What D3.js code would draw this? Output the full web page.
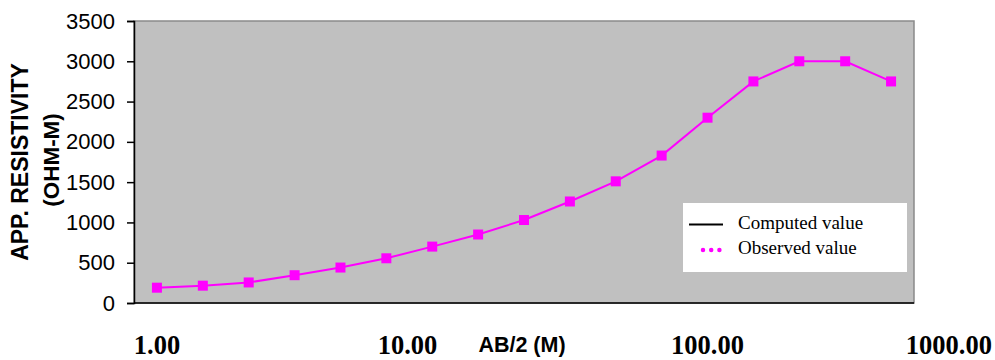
<!DOCTYPE html>
<html>
<head>
<meta charset="utf-8">
<script src="https://cdn.jsdelivr.net/npm/d3@7"></script>
<style>
  html, body { margin: 0; padding: 0; background: #ffffff; }
  svg { display: block; }
</style>
</head>
<body>
<svg id="chart" width="995" height="360"></svg>
<script>
// Electrode half-spacing AB/2 (m) for each sounding station, in order
const abHalf = [1, 1.5, 2, 3, 5, 8, 13, 18, 25, 35, 50, 70, 100, 150, 250, 400, 600];
// Observed apparent resistivity (ohm-m) at each spacing
const observed = [190, 215, 255, 345, 440, 555, 700, 850, 1030, 1260, 1510, 1830, 2300, 2750, 3000, 3000, 2750];
// Decade labels along the spacing axis
const decadeLabels = [1, 10, 100, 1000];
// Resistivity axis ticks
const yTicks = [0, 500, 1000, 1500, 2000, 2500, 3000, 3500];
// Legend entries
const legendItems = ["Computed value", "Observed value"];

const svg = d3.select("#chart");
const plot = { left: 134, right: 914, top: 21, bottom: 303 };

// Stations are plotted as evenly spaced categories
const x = d3.scalePoint()
  .domain(abHalf)
  .range([plot.left, plot.right])
  .padding(0.5);

// Log interpolation across the station positions, used to place decade labels
const xDecade = d3.scaleLog()
  .domain(abHalf)
  .range(abHalf.map(d => x(d)));

const y = d3.scaleLinear()
  .domain([0, 3500])
  .range([plot.bottom, plot.top]);

// Plot area
svg.append("rect")
  .attr("x", plot.left)
  .attr("y", plot.top)
  .attr("width", plot.right - plot.left)
  .attr("height", plot.bottom - plot.top)
  .attr("fill", "#c0c0c0")
  .attr("stroke", "#8a8a8a")
  .attr("stroke-width", 1.5);

// Y axis
const yAxis = svg.append("g")
  .attr("transform", `translate(${plot.left},0)`)
  .call(d3.axisLeft(y).tickValues(yTicks).tickSize(7).tickPadding(12).tickFormat(d3.format("d")));
yAxis.select(".domain").attr("stroke", "#000").attr("stroke-width", 1.5);
yAxis.selectAll(".tick line").attr("stroke", "#000").attr("stroke-width", 1.5);
yAxis.selectAll(".tick text")
  .attr("font-family", "'Liberation Sans', Arial, sans-serif")
  .attr("font-size", 22)
  .attr("fill", "#000");

// Bottom axis line
svg.append("line")
  .attr("x1", plot.left).attr("x2", plot.right)
  .attr("y1", plot.bottom).attr("y2", plot.bottom)
  .attr("stroke", "#000").attr("stroke-width", 1.5);

// Y axis title (two lines)
svg.append("text")
  .attr("transform", `translate(28,162) rotate(-90)`)
  .attr("text-anchor", "middle")
  .attr("font-family", "'Liberation Sans', Arial, sans-serif")
  .attr("font-weight", "bold")
  .attr("font-size", 23)
  .attr("fill", "#000")
  .text("APP. RESISTIVITY");
svg.append("text")
  .attr("transform", `translate(59,160) rotate(-90)`)
  .attr("text-anchor", "middle")
  .attr("font-family", "'Liberation Sans', Arial, sans-serif")
  .attr("font-weight", "bold")
  .attr("font-size", 22.5)
  .attr("fill", "#000")
  .text("(OHM-M)");

// Decade labels
svg.append("g").selectAll("text")
  .data(decadeLabels)
  .join("text")
  .attr("x", d => xDecade(d))
  .attr("y", 354)
  .attr("text-anchor", "middle")
  .attr("font-family", "'Liberation Serif', 'Times New Roman', serif")
  .attr("font-weight", "bold")
  .attr("font-size", 26.5)
  .attr("fill", "#000")
  .text(d => d3.format(".2f")(d));

// X axis title
svg.append("text")
  .attr("x", 522)
  .attr("y", 352)
  .attr("text-anchor", "middle")
  .attr("font-family", "'Liberation Sans', Arial, sans-serif")
  .attr("font-weight", "bold")
  .attr("font-size", 21.5)
  .attr("fill", "#000")
  .text("AB/2 (M)");

// Observed curve
const pts = abHalf.map((d, i) => [d, observed[i]]);
svg.append("path")
  .datum(pts)
  .attr("fill", "none")
  .attr("stroke", "#ff00ff")
  .attr("stroke-width", 2)
  .attr("d", d3.line().x(d => x(d[0])).y(d => y(d[1])));

svg.append("g").selectAll("rect")
  .data(pts)
  .join("rect")
  .attr("x", d => x(d[0]) - 5)
  .attr("y", d => y(d[1]) - 5)
  .attr("width", 10)
  .attr("height", 10)
  .attr("fill", "#ff00ff");

// Legend
const legend = svg.append("g").attr("transform", "translate(683,203)");
legend.append("rect")
  .attr("width", 224)
  .attr("height", 69)
  .attr("fill", "#ffffff");
legend.append("line")
  .attr("x1", 6).attr("x2", 40)
  .attr("y1", 21.5).attr("y2", 21.5)
  .attr("stroke", "#000").attr("stroke-width", 2);
legend.append("line")
  .attr("x1", 20).attr("x2", 37)
  .attr("y1", 47).attr("y2", 47)
  .attr("stroke", "#ff00ff").attr("stroke-width", 4.5)
  .attr("stroke-linecap", "round")
  .attr("stroke-dasharray", "0,8.2");
legend.selectAll("text.item")
  .data(legendItems)
  .join("text")
  .attr("class", "item")
  .attr("x", 55)
  .attr("y", (d, i) => 26 + i * 25)
  .attr("font-family", "'Liberation Serif', 'Times New Roman', serif")
  .attr("font-size", 19)
  .attr("fill", "#000")
  .text(d => d);
</script>
</body>
</html>
